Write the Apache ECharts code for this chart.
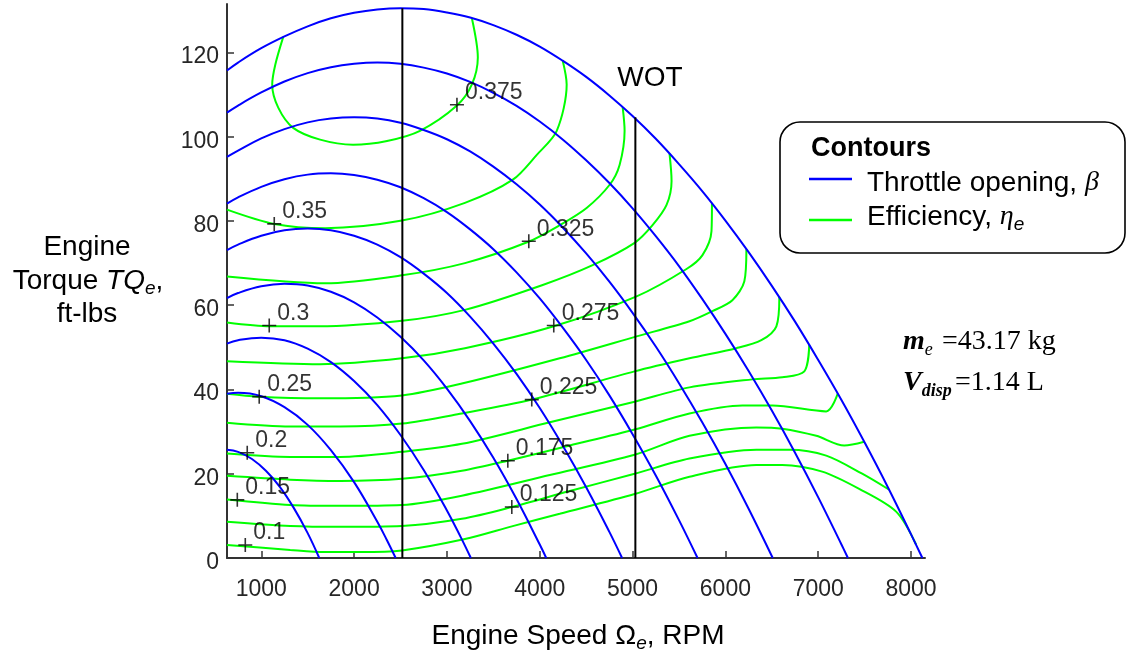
<!DOCTYPE html>
<html>
<head>
<meta charset="utf-8">
<script src="https://cdn.jsdelivr.net/npm/echarts@6/dist/echarts.min.js"></script>
<style>
  html, body { margin: 0; padding: 0; background: #fff; }
  #chart { width: 1128px; height: 654px; }
</style>
</head>
<body>
<div id="chart"></div>
<script>
// Axis ticks
const speedTicks = [1000, 2000, 3000, 4000, 5000, 6000, 7000, 8000];
const torqueTicks = [0, 20, 40, 60, 80, 100, 120];

// Throttle-opening contours: [engine speed RPM, torque ft-lbs]
const throttleWOT = [[631,115.7],[750,117.6],[1000,121.0],[1250,123.8],[1500,126.2],[1750,128.1],[2000,129.4],[2250,130.2],[2500,130.5],[2750,130.3],[3000,129.5],[3250,128.3],[3500,126.5],[3750,124.2],[4000,121.4],[4250,118.0],[4500,114.2],[4750,109.8],[5000,104.9],[5250,99.5],[5500,93.5],[5750,87.1],[6000,80.1],[6250,72.6],[6500,64.6],[6750,56.1],[7000,47.0],[7250,37.5],[7500,27.4],[7750,16.8],[8000,5.6],[8122,0]];
const throttle2 = [[631,105.7],[750,107.4],[1000,110.5],[1250,113.1],[1500,115.1],[1750,116.5],[2000,117.3],[2250,117.6],[2500,117.3],[2750,116.4],[3000,115.0],[3250,113.0],[3500,110.4],[3750,107.3],[4000,103.6],[4250,99.3],[4500,94.4],[4750,89.0],[5000,83.0],[5250,76.4],[5500,69.3],[5750,61.5],[6000,53.2],[6250,44.4],[6500,35.0],[6750,25.0],[7000,14.4],[7250,3.2],[7320,0]];
const throttle3 = [[631,95.2],[750,96.7],[1000,99.6],[1250,101.8],[1500,103.4],[1750,104.3],[2000,104.6],[2250,104.3],[2500,103.3],[2750,101.6],[3000,99.4],[3250,96.5],[3500,92.9],[3750,88.7],[4000,83.9],[4250,78.4],[4500,72.3],[4750,65.6],[5000,58.2],[5250,50.2],[5500,41.5],[5750,32.2],[6000,22.3],[6250,11.7],[6510,0]];
const throttle4 = [[631,84.1],[750,85.6],[1000,88.1],[1250,89.9],[1500,91.0],[1750,91.3],[2000,90.9],[2250,89.8],[2500,88.0],[2750,85.4],[3000,82.1],[3250,78.0],[3500,73.3],[3750,67.8],[4000,61.6],[4250,54.6],[4500,47.0],[4750,38.6],[5000,29.4],[5250,19.6],[5500,9.0],[5700,0]];
const throttle5 = [[631,73.1],[750,74.4],[1000,76.5],[1250,77.8],[1500,78.2],[1750,77.8],[2000,76.5],[2250,74.4],[2500,71.4],[2750,67.5],[3000,62.9],[3250,57.3],[3500,50.9],[3750,43.7],[4000,35.6],[4250,26.6],[4500,16.8],[4750,6.2],[4887,0]];
const throttle6 = [[631,61.7],[750,62.9],[1000,64.5],[1250,65.1],[1500,64.7],[1750,63.2],[2000,60.7],[2250,57.1],[2500,52.5],[2750,46.9],[3000,40.2],[3250,32.5],[3500,23.8],[3750,14.0],[4000,3.2],[4070,0]];
const throttle7 = [[631,50.9],[750,51.7],[1000,52.3],[1250,51.7],[1500,49.7],[1750,46.5],[2000,42.0],[2250,36.3],[2500,29.2],[2750,20.9],[3000,11.3],[3150,4.9],[3258,0]];
const throttle8 = [[631,39.0],[750,39.2],[1000,38.4],[1250,35.8],[1500,31.6],[1750,25.6],[2000,18.0],[2250,8.6],[2350,4.4],[2448,0]];
const throttle9 = [[631,25.7],[750,25.2],[900,23.5],[1050,20.7],[1200,16.9],[1350,11.9],[1500,5.9],[1625,0]];

// Efficiency contours: [engine speed RPM, torque ft-lbs]
const eff100 = [[631,3.1],[1312,1.9],[1688,1.4],[2065,1.4],[2516,1.8],[3194,4.5],[3699,7.5],[4215,10.5],[5022,15.2],[5613,19.3],[6333,22.1],[6613,22.1],[7043,20.5],[7441,16.4],[7839,11.0],[8054,3.2]];
const eff125 = [[631,8.6],[1312,7.6],[1849,7.4],[2516,7.6],[3161,9.3],[3699,12.1],[4323,15.9],[5022,20.0],[5613,23.6],[6333,25.7],[6688,25.7],[7086,24.3],[7473,20.0],[7764,16.2]];
const eff150 = [[631,13.9],[1312,12.6],[1849,12.4],[2516,12.6],[3161,14.8],[4108,19.7],[5022,24.5],[5613,29.0],[6333,31.0],[6613,30.7],[6979,29.0],[7280,26.7],[7495,27.6]];
const eff175 = [[631,19.5],[1312,18.6],[1849,18.3],[2516,18.8],[3161,20.7],[3656,23.1],[4323,26.7],[5022,30.5],[5613,34.3],[6183,36.2],[6506,36.2],[7086,34.8],[7210,39.0]];
const eff200 = [[631,24.8],[1312,24.0],[1849,24.0],[2516,25.2],[3161,27.1],[4108,32.2],[5022,37.1],[5613,40.5],[6290,42.4],[6613,42.9],[6850,44.3],[6903,50.6]];
const eff225 = [[631,32.1],[1312,31.2],[1849,31.2],[2516,31.9],[3161,34.3],[3914,37.6],[5022,44.3],[5613,47.4],[6118,49.8],[6387,51.7],[6549,55.0],[6581,62.0]];
const eff250 = [[631,39.0],[968,38.3],[1634,37.9],[2516,38.6],[3161,41.4],[4215,47.4],[5043,52.6],[5613,56.2],[5860,58.6],[6075,61.2],[6204,65.7],[6226,73.3]];
const eff275 = [[631,46.7],[1634,46.0],[2516,47.4],[3194,49.8],[4151,55.0],[5043,62.1],[5581,68.6],[5753,71.9],[5850,77.6],[5855,84.2]];
const eff300 = [[631,55.9],[1097,55.0],[1613,55.0],[2516,56.3],[3194,58.9],[4032,64.8],[4570,69.5],[5022,74.8],[5215,79.0],[5366,83.8],[5420,89.5],[5398,96.0]];
const eff325 = [[631,66.8],[1688,65.2],[2516,67.1],[3194,70.0],[3871,75.0],[4215,79.0],[4505,83.1],[4753,88.6],[4860,93.3],[4914,101.4],[4893,107.0]];
const eff350 = [[631,82.7],[1140,79.3],[1688,78.3],[2516,80.1],[3194,84.3],[3710,89.8],[3968,95.7],[4183,101.4],[4290,112.4],[4247,118.1]];
const eff375 = [[1237,123.7],[1151,117.1],[1118,112.4],[1183,106.9],[1344,102.1],[1634,99.3],[1989,98.1],[2355,99.0],[2710,101.4],[3108,107.4],[3269,112.4],[3333,118.8],[3269,128.1]];

// Contour value labels and their marker points
const effLabelText = ['0.375','0.35','0.325','0.3','0.275','0.25','0.225','0.2','0.175','0.15','0.125','0.1'];
const effLabelPoints = [[3108,107.6],[1140,79.3],[3882,75.2],[1086,55.2],[4151,55.2],[978,38.3],[3914,37.6],[849,25.0],[3656,23.1],[742,13.8],[3699,12.1],[828,3.1]];

// Reference speed lines, from the speed axis up to the WOT curve
const speedLineLow = [[2520,0],[2520,130.5]];
const speedLineHigh = [[5030,0],[5030,104.6]];

const SANS = '"Liberation Sans", Arial, sans-serif';
const SERIF = '"Liberation Serif", "Times New Roman", serif';
const BLUE = '#0000ff';
const GREEN = '#00ff00';

const throttleCurves = [throttleWOT, throttle2, throttle3, throttle4, throttle5, throttle6, throttle7, throttle8, throttle9];
const effCurves = [eff100, eff125, eff150, eff175, eff200, eff225, eff250, eff275, eff300, eff325, eff350, eff375];

const series = [];
effCurves.forEach(function (d) {
  series.push({
    type: 'line', data: d, smooth: 0.3, showSymbol: false, silent: true,
    lineStyle: { color: GREEN, width: 2 }, z: 2
  });
});
throttleCurves.forEach(function (d) {
  series.push({
    type: 'line', data: d, smooth: 0.4, showSymbol: false, silent: true,
    lineStyle: { color: BLUE, width: 2 }, z: 3
  });
});
[speedLineLow, speedLineHigh].forEach(function (d) {
  series.push({
    type: 'line', data: d, showSymbol: false, silent: true,
    lineStyle: { color: '#000', width: 2 }, z: 4
  });
});
series.push({
  type: 'scatter',
  symbol: 'path://M6.2,0H7.8V6.2H14V7.8H7.8V14H6.2V7.8H0V6.2H6.2Z',
  symbolSize: 14,
  itemStyle: { color: '#000' },
  data: effLabelPoints.map(function (p, i) { return { value: p, name: effLabelText[i] }; }),
  label: {
    show: true, position: 'right', formatter: '{b}', distance: 5,
    offset: [-4, -12], fontSize: 23, color: '#000', fontFamily: SANS
  },
  z: 5, silent: true
});

const subPad = [16, 0, 0, 0];
const tickText = { fontSize: 23, color: '#262626', fontFamily: SANS };

const option = {
  animation: false,
  backgroundColor: '#fff',
  grid: { left: 227, right: 203, top: 4, bottom: 96, containLabel: false },
  xAxis: {
    type: 'value', min: 631, max: 8150,
    axisLine: { show: true, onZero: false, lineStyle: { color: '#333', width: 2 } },
    axisTick: { show: true, inside: true, length: 7, customValues: speedTicks, lineStyle: { color: '#333', width: 1.5 } },
    axisLabel: {
      customValues: speedTicks, margin: 20,
      formatter: function (v) { return '{t|' + v + '}'; },
      rich: { t: tickText }
    },
    splitLine: { show: false }
  },
  yAxis: {
    type: 'value', min: 0, max: 131.5,
    axisLine: { show: true, onZero: false, lineStyle: { color: '#333', width: 2 } },
    axisTick: { show: true, inside: true, length: 7, customValues: torqueTicks, lineStyle: { color: '#333', width: 1.5 } },
    axisLabel: {
      customValues: torqueTicks, margin: 8,
      formatter: function (v) { return '{t|' + v + '}'; },
      rich: { t: Object.assign({ padding: [9, 0, 0, 0] }, tickText) }
    },
    splitLine: { show: false }
  },
  series: series,
  graphic: [
    // axis titles
    { type: 'text', z: 10, style: {
      text: '{n|Engine Speed Ω}{s|e}{n|, RPM}', x: 578, y: 636, align: 'center', verticalAlign: 'middle',
      rich: {
        n: { fontSize: 28, fontFamily: SANS, fill: '#000' },
        s: { fontSize: 19, fontStyle: 'italic', fontFamily: SANS, fill: '#000', padding: subPad }
      } } },
    { type: 'text', z: 10, style: {
      text: 'Engine', x: 87, y: 247, align: 'center', verticalAlign: 'middle',
      fontSize: 28, fontFamily: SANS, fill: '#000' } },
    { type: 'text', z: 10, style: {
      text: '{n|Torque }{i|TQ}{s|e}{n|,}', x: 88, y: 281, align: 'center', verticalAlign: 'middle',
      rich: {
        n: { fontSize: 28, fontFamily: SANS, fill: '#000' },
        i: { fontSize: 28, fontStyle: 'italic', fontFamily: SANS, fill: '#000' },
        s: { fontSize: 19, fontStyle: 'italic', fontFamily: SANS, fill: '#000', padding: subPad }
      } } },
    { type: 'text', z: 10, style: {
      text: 'ft-lbs', x: 87, y: 314, align: 'center', verticalAlign: 'middle',
      fontSize: 28, fontFamily: SANS, fill: '#000' } },

    // WOT tag
    { type: 'text', z: 10, style: {
      text: 'WOT', x: 650, y: 78, align: 'center', verticalAlign: 'middle',
      fontSize: 28, fontFamily: SANS, fill: '#000' } },

    // legend box
    { type: 'rect', z: 10, shape: { x: 780, y: 122, width: 345, height: 131, r: 20 },
      style: { fill: '#fff', stroke: '#000', lineWidth: 1.6 } },
    { type: 'text', z: 11, style: {
      text: 'Contours', x: 811, y: 149, align: 'left', verticalAlign: 'middle',
      fontSize: 27, fontWeight: 'bold', fontFamily: SANS, fill: '#000' } },
    { type: 'line', z: 11, shape: { x1: 809, y1: 179, x2: 852, y2: 179 },
      style: { stroke: BLUE, lineWidth: 2.5 } },
    { type: 'text', z: 11, style: {
      text: '{n|Throttle opening, }{g|β}', x: 867, y: 183, align: 'left', verticalAlign: 'middle',
      rich: {
        n: { fontSize: 28, fontFamily: SANS, fill: '#000' },
        g: { fontSize: 28, fontStyle: 'italic', fontFamily: SERIF, fill: '#000' }
      } } },
    { type: 'line', z: 11, shape: { x1: 809, y1: 220, x2: 852, y2: 220 },
      style: { stroke: GREEN, lineWidth: 2.5 } },
    { type: 'text', z: 11, style: {
      text: '{n|Efficiency, }{g|η}{s|e}', x: 867, y: 217, align: 'left', verticalAlign: 'middle',
      rich: {
        n: { fontSize: 28, fontFamily: SANS, fill: '#000' },
        g: { fontSize: 28, fontStyle: 'italic', fontFamily: SERIF, fill: '#000' },
        s: { fontSize: 19, fontStyle: 'italic', fontFamily: SANS, fill: '#000', padding: subPad }
      } } },

    // engine parameters
    { type: 'text', z: 10, style: {
      text: '{m|m}{s|e}', x: 903, y: 342, align: 'left', verticalAlign: 'middle',
      rich: {
        m: { fontSize: 28, fontStyle: 'italic', fontWeight: 'bold', fontFamily: SERIF, fill: '#000' },
        s: { fontSize: 18, fontStyle: 'italic', fontFamily: SERIF, fill: '#000', padding: subPad }
      } } },
    { type: 'text', z: 10, style: {
      text: '=43.17 kg', x: 942, y: 342, align: 'left', verticalAlign: 'middle',
      fontSize: 28, fontFamily: SERIF, fill: '#000' } },
    { type: 'text', z: 10, style: {
      text: '{v|V}{s|disp}', x: 903, y: 383, align: 'left', verticalAlign: 'middle',
      rich: {
        v: { fontSize: 28, fontStyle: 'italic', fontWeight: 'bold', fontFamily: SERIF, fill: '#000' },
        s: { fontSize: 18, fontStyle: 'italic', fontWeight: 'bold', fontFamily: SERIF, fill: '#000', padding: subPad }
      } } },
    { type: 'text', z: 10, style: {
      text: '=1.14 L', x: 955, y: 383, align: 'left', verticalAlign: 'middle',
      fontSize: 28, fontFamily: SERIF, fill: '#000' } }
  ]
};

const chart = echarts.init(document.getElementById('chart'), null, { renderer: 'canvas' });
chart.setOption(option);
</script>
</body>
</html>
